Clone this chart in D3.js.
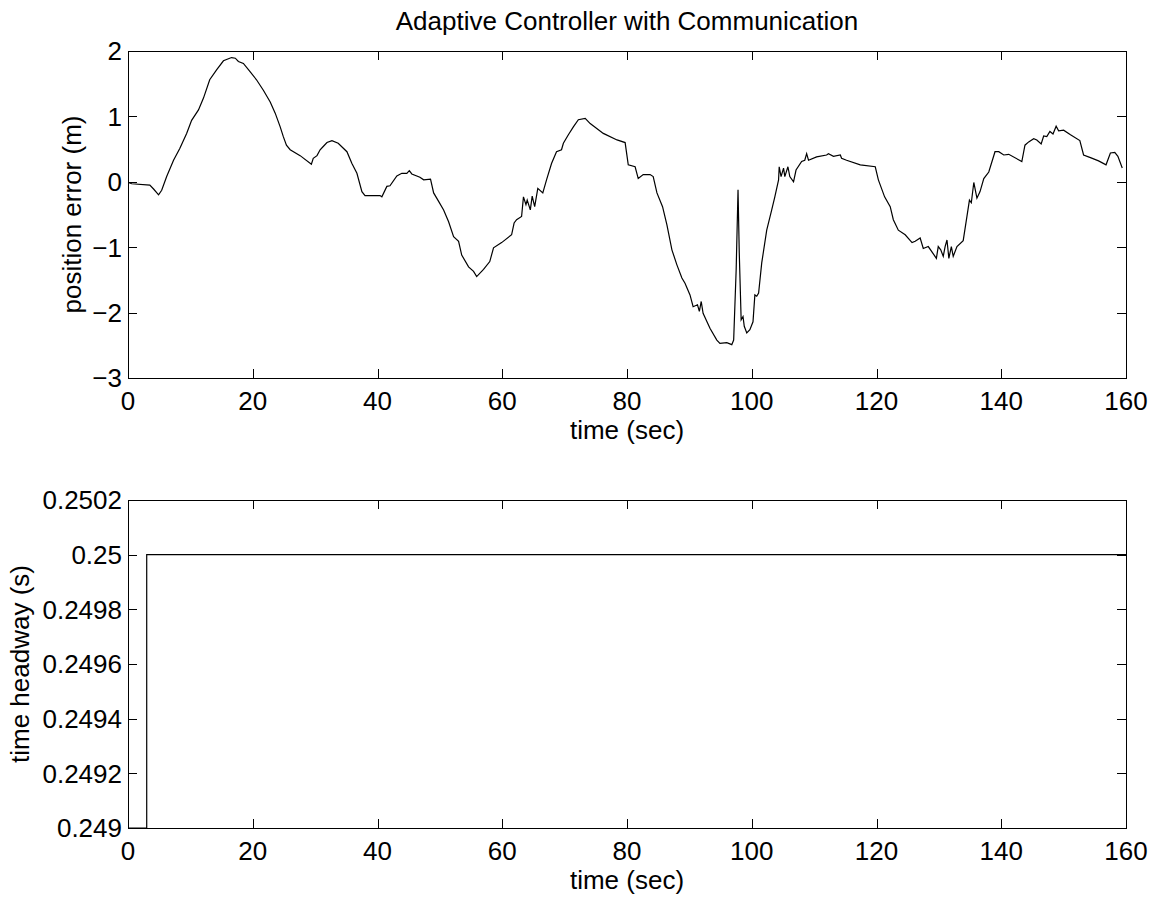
<!DOCTYPE html>
<html lang="en">
<head>
<meta charset="UTF-8">
<title>Adaptive Controller with Communication</title>
<script src="https://d3js.org/d3.v7.min.js"></script>
<style>
    body { margin: 0; padding: 0; background: #fff; overflow: hidden; }
    svg { display: block; }
    text { font-family: "Liberation Sans", Arial, sans-serif; font-size: 26px; fill: #000; }
    .frame { fill: none; stroke: #000; stroke-width: 1; }
    .tick { stroke: #000; stroke-width: 1; }
    .curve { fill: none; stroke: #000; stroke-width: 1.2; }
</style>
</head>
<body>
<script>
// position error (m)
const errTime = [0, 0.6, 3.5, 4.1, 4.9, 5.4, 6.2, 7.3, 8.3, 9.4, 10.2, 11.3, 12.1, 13.1, 14.2, 15.3,
    16.6, 17.2, 17.7, 18.5, 19.6, 20.6, 21.7, 22.8, 23.6, 24.4, 24.9, 25.4, 26.0, 27.6, 29.4, 29.7,
    30.3, 30.8, 31.3, 31.9, 32.7, 33.7, 35.1, 35.9, 36.7, 37.5, 38.0, 40.4, 40.7, 41.5, 42.0, 43.1,
    43.9, 44.7, 45.1, 45.5, 46.8, 47.4, 48.5, 49.0, 49.8, 50.6, 51.4, 52.2, 53.0, 53.5, 54.6, 55.4,
    55.9, 57.0, 58.0, 58.6, 59.9, 61.5, 61.9, 62.3, 63.1, 63.4, 63.8, 64.0, 64.5, 64.8, 65.2, 65.7,
    66.5, 67.1, 67.9, 68.7, 69.5, 69.8, 70.6, 71.4, 72.2, 73.3, 74.1, 76.2, 78.4, 79.7, 80.2, 81.3,
    81.8, 82.6, 83.7, 84.2, 84.8, 85.7, 86.4, 87.2, 88.0, 88.8, 89.3, 90.1, 90.6, 91.3, 91.6, 91.9,
    92.2, 93.3, 94.4, 94.9, 96.0, 96.8, 97.1, 97.5, 97.8, 98.0, 98.3, 98.6, 98.8, 99.2, 99.7, 100.2,
    100.5, 100.8, 101.1, 101.6, 102.4, 103.2, 103.7, 104.3, 104.4, 104.7, 105.1, 105.3, 105.8, 106.1,
    106.7, 107.1, 108.0, 108.5, 108.8, 109.1, 110.4, 112.0, 112.3, 113.1, 114.2, 114.4, 115.2, 117.4,
    119.8, 120.3, 121.3, 122.2, 122.7, 123.5, 124.6, 125.7, 126.2, 127.0, 127.5, 128.3, 129.6, 129.9,
    130.3, 130.7, 131.0, 131.3, 131.6, 132.0, 132.3, 132.9, 133.9, 134.5, 134.9, 135.2, 135.6, 136.1,
    136.6, 137.2, 138.0, 139.0, 139.6, 140.4, 141.2, 143.3, 143.8, 144.4, 145.2, 145.7, 146.4, 146.8,
    147.3, 147.8, 148.3, 148.8, 149.2, 150.0, 151.1, 152.6, 153.2, 154.3, 155.6, 156.8, 157.5, 158.2,
    158.7, 159.4];
const errValue = [-0.01, -0.03, -0.05, -0.11, -0.2, -0.13, 0.08, 0.33, 0.51, 0.74, 0.94, 1.10, 1.28, 1.56, 1.71, 1.85,
    1.90, 1.89, 1.84, 1.81, 1.68, 1.56, 1.40, 1.22, 1.05, 0.84, 0.69, 0.56, 0.49, 0.40, 0.27, 0.36,
    0.40, 0.49, 0.54, 0.60, 0.63, 0.59, 0.46, 0.28, 0.13, -0.15, -0.21, -0.21, -0.23, -0.07, -0.06, 0.09,
    0.13, 0.13, 0.17, 0.12, 0.07, 0.03, 0.04, -0.17, -0.30, -0.43, -0.61, -0.84, -0.91, -1.12, -1.30, -1.37,
    -1.45, -1.34, -1.22, -1.01, -0.93, -0.81, -0.63, -0.58, -0.53, -0.23, -0.35, -0.28, -0.43, -0.22, -0.38, -0.10,
    -0.17, 0.03, 0.28, 0.46, 0.49, 0.59, 0.72, 0.84, 0.95, 0.97, 0.89, 0.74, 0.64, 0.60, 0.26, 0.23,
    0.05, 0.11, 0.11, 0.08, -0.17, -0.38, -0.66, -1.04, -1.27, -1.47, -1.55, -1.73, -1.91, -1.88, -1.98, -1.83,
    -2.01, -2.24, -2.42, -2.47, -2.46, -2.49, -2.42, -1.35, -0.12, -1.09, -2.11, -2.06, -2.21, -2.31, -2.26, -2.14,
    -1.73, -1.75, -1.70, -1.24, -0.74, -0.43, -0.23, 0.03, 0.23, 0.08, 0.21, 0.08, 0.23, 0.08,
    0.00, 0.18, 0.31, 0.33, 0.43, 0.33, 0.38, 0.41, 0.43, 0.39, 0.41, 0.36, 0.33, 0.26,
    0.23, 0.03, -0.23, -0.38, -0.58, -0.74, -0.81, -0.93, -0.91, -0.86, -1.02, -0.99, -1.17, -0.99,
    -1.04, -1.14, -0.99, -0.89, -1.17, -0.99, -1.14, -0.99, -0.90, -0.53, -0.28, -0.32, -0.01, -0.25,
    -0.15, 0.05, 0.15, 0.46, 0.46, 0.41, 0.42, 0.31, 0.56, 0.61, 0.66, 0.64, 0.58, 0.70,
    0.69, 0.77, 0.73, 0.85, 0.78, 0.79, 0.72, 0.63, 0.41, 0.37, 0.32, 0.26, 0.44, 0.45,
    0.39, 0.21];

// time headway (s) in the bottom panel
const hwTime = [0, 3, 3, 160];
const hwValue = [0.249, 0.249, 0.25, 0.25];

const xTicks = [0, 20, 40, 60, 80, 100, 120, 140, 160];
const errTicks = [-3, -2, -1, 0, 1, 2];
const hwTicks = [0.249, 0.2492, 0.2494, 0.2496, 0.2498, 0.25, 0.2502];
const hwTickLabels = ["0.249", "0.2492", "0.2494", "0.2496", "0.2498", "0.25", "0.2502"];

const width = 1157, height = 899;
const left = 128, right = 1126;
const tickLen = 9;

const svg = d3.select("body").append("svg")
    .attr("width", width)
    .attr("height", height);

function drawPanel(opts) {
    const x = d3.scaleLinear().domain([0, 160]).range([left, right]);
    const y = d3.scaleLinear().domain(opts.yDomain).range([opts.bottom, opts.top]);
    const g = svg.append("g");

    const clipId = "clip" + opts.id;
    svg.append("clipPath").attr("id", clipId)
        .append("rect")
        .attr("x", left).attr("y", opts.top)
        .attr("width", right - left).attr("height", opts.bottom - opts.top);

    // data line
    const pts = opts.xs.map((t, i) => [t, opts.ys[i]]);
    g.append("path")
        .attr("class", "curve")
        .attr("clip-path", `url(#${clipId})`)
        .attr("d", d3.line().x(d => x(d[0])).y(d => y(d[1]))(pts));

    // box
    g.append("rect")
        .attr("class", "frame")
        .attr("x", left + 0.5).attr("y", opts.top + 0.5)
        .attr("width", right - left).attr("height", opts.bottom - opts.top);

    // x ticks, bottom and top, pointing inward
    xTicks.forEach(t => {
        const px = Math.round(x(t)) + 0.5;
        g.append("line").attr("class", "tick")
            .attr("x1", px).attr("x2", px)
            .attr("y1", opts.bottom).attr("y2", opts.bottom - tickLen);
        g.append("line").attr("class", "tick")
            .attr("x1", px).attr("x2", px)
            .attr("y1", opts.top).attr("y2", opts.top + tickLen);
        g.append("text")
            .attr("x", x(t))
            .attr("y", opts.bottom + 32)
            .attr("text-anchor", "middle")
            .text(t);
    });

    // y ticks, left and right
    opts.yTicks.forEach((v, i) => {
        const py = Math.round(y(v)) + 0.5;
        g.append("line").attr("class", "tick")
            .attr("x1", left).attr("x2", left + tickLen)
            .attr("y1", py).attr("y2", py);
        g.append("line").attr("class", "tick")
            .attr("x1", right).attr("x2", right - tickLen)
            .attr("y1", py).attr("y2", py);
        g.append("text")
            .attr("x", left - 6)
            .attr("y", y(v))
            .attr("dy", "0.36em")
            .attr("text-anchor", "end")
            .text(opts.yLabels ? opts.yLabels[i] : d3.format("")(v));
    });

    g.append("text")
        .attr("x", (left + right) / 2)
        .attr("y", opts.bottom + 61)
        .attr("text-anchor", "middle")
        .text("time (sec)");

    g.append("text")
        .attr("transform", `translate(${opts.yLabelX},${(opts.top + opts.bottom) / 2}) rotate(-90)`)
        .attr("text-anchor", "middle")
        .text(opts.yTitle);
}

drawPanel({
    id: 1, top: 51, bottom: 378,
    yDomain: [-3, 2], yTicks: errTicks,
    xs: errTime, ys: errValue,
    yTitle: "position error (m)", yLabelX: 81
});

drawPanel({
    id: 2, top: 500, bottom: 828,
    yDomain: [0.249, 0.2502], yTicks: hwTicks, yLabels: hwTickLabels,
    xs: hwTime, ys: hwValue,
    yTitle: "time headway (s)", yLabelX: 29
});

svg.append("text")
    .attr("x", (left + right) / 2)
    .attr("y", 30)
    .attr("text-anchor", "middle")
    .text("Adaptive Controller with Communication");
</script>
</body>
</html>
